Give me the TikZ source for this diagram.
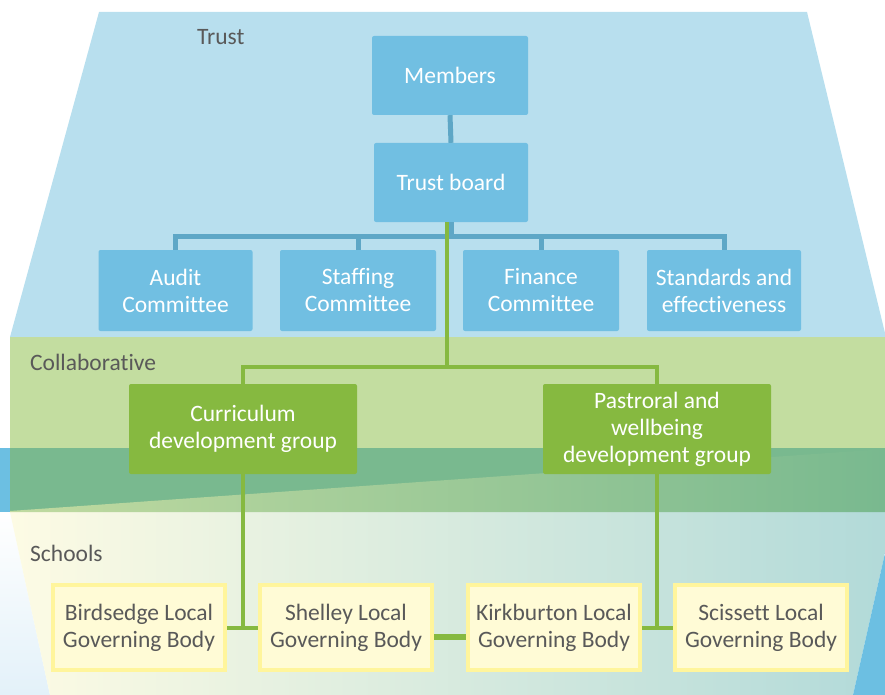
\documentclass[tikz,border=0pt]{standalone}
\usepackage{fontspec}
\setmainfont{Carlito}[Ligatures=CommonOff]
\usepackage{tikz}

\definecolor{trustbg}{HTML}{B8DFEE}
\definecolor{trustbox}{HTML}{71BFE2}
\definecolor{trustline}{HTML}{5EA7C6}
\definecolor{collabbg}{HTML}{C3DDA0}
\definecolor{collabbox}{HTML}{86B940}
\definecolor{overlap}{HTML}{79B98F}
\definecolor{overlaplight}{HTML}{C0DAA0}
\definecolor{stripblue}{HTML}{6CBFE2}
\definecolor{schoolleft}{HTML}{FDFBE4}
\definecolor{schoolright}{HTML}{B2DAD9}
\definecolor{paleblue}{HTML}{E3F1F9}
\definecolor{schoolfill}{HTML}{FFFBD6}
\definecolor{schoolrim}{HTML}{FFF59C}
\definecolor{labelgray}{HTML}{595959}

\begin{document}
\begin{tikzpicture}[x=1pt, y=-1pt,
    txt/.style={font=\fontsize{23.5}{27}\selectfont, align=center, inner sep=0pt},
    bluebox/.style={txt, fill=trustbox, text=white, rounded corners=2pt},
    greenbox/.style={txt, fill=collabbox, text=white, rounded corners=2pt,
      minimum width=228pt, minimum height=90pt},
    schoolbox/.style={txt, fill=schoolfill, draw=schoolrim, line width=4pt,
      text=labelgray, minimum width=172pt, minimum height=85pt},
    band/.style={font=\fontsize{23.5}{27}\selectfont, text=labelgray, inner sep=0pt},
    blueline/.style={draw=trustline, line width=5pt},
    greenline/.style={draw=collabbox, line width=4pt}]
      \useasboundingbox (0,0) rectangle (885,695);
      % background layers
      \fill[stripblue] (0,448) rectangle (885,512);
      \shade[top color=white, bottom color=paleblue] (0,512) -- (10,512) -- (50,695) -- (0,695) -- cycle;
      \shade[left color=schoolleft, right color=schoolright]
        (10,512) -- (885,512) -- (885,553) -- (853,695) -- (50,695) -- cycle;
      \fill[stripblue] (885,553) -- (885,695) -- (853,695) -- cycle;
      \fill[trustbg] (99,12) -- (807,12) -- (885,333) -- (885,337) -- (10,337) -- cycle;
      \fill[collabbg] (10,337) rectangle (885,448);
      \fill[overlap] (10,448) rectangle (885,512);
      \shade[left color=overlaplight, right color=overlap] (10,511) -- (885,449) -- (885,512) -- (10,512) -- cycle;

      \node[band, anchor=west] (trustlbl)  at (197,37)  {Trust};
      \node[band, anchor=west] (collablbl) at (30,362)  {Collaborative};
      \node[band, anchor=west] (schoollbl) at (30,553)  {Schools};

      % trust
      \node[bluebox, minimum width=156pt, minimum height=79pt] (members) at (450,75.5)  {Members};
      \node[bluebox, minimum width=154pt, minimum height=79pt] (board)   at (451,182.5) {Trust board};
      \node[bluebox, minimum width=154pt, minimum height=81pt] (audit)     at (175.5,290.5) {Audit\\Committee};
      \node[bluebox, minimum width=156pt, minimum height=81pt] (staffing)  at (358,290.5)   {Staffing\\Committee};
      \node[bluebox, minimum width=156pt, minimum height=81pt] (finance)   at (541,290.5)   {Finance\\Committee};
      \node[bluebox, minimum width=154pt, minimum height=81pt] (standards) at (724,290.5)   {Standards and\\effectiveness};

      % collaborative
      \node[greenbox] (curric)   at (243,429) {Curriculum\\development group};
      \node[greenbox] (pastoral) at (657,429) {Pastroral and\\wellbeing\\development group};

      % schools
      \node[schoolbox] (birds)    at (139,627.5) {Birdsedge Local\\Governing Body};
      \node[schoolbox] (shelley)  at (346,627.5) {Shelley Local\\Governing Body};
      \node[schoolbox] (kirk)     at (554,627.5) {Kirkburton Local\\Governing Body};
      \node[schoolbox] (scissett) at (761,627.5) {Scissett Local\\Governing Body};

      \coordinate (cbus) at (451,236);
      \coordinate (gbus) at (447,367);
      \draw[blueline] (members.south) -- (board.north);
      \draw[blueline] (board.south) -- (cbus);
      \draw[blueline] (audit.north) |- (cbus) -| (standards.north);
      \draw[blueline] (staffing.north) -- (staffing.north |- cbus);
      \draw[blueline] (finance.north) -- (finance.north |- cbus);

      \draw[greenline] (board.south -| gbus) -- (gbus);
      \draw[greenline] (curric.north) |- (gbus) -| (pastoral.north);
      \draw[greenline] (curric.south) -- (curric.south |- birds.east);
      \draw[greenline] (birds.east) -- (shelley.west);
      \draw[greenline] (pastoral.south) -- (pastoral.south |- kirk.east);
      \draw[greenline] (kirk.east) -- (scissett.west);
      \draw[greenline, line width=6pt] ([yshift=-9pt]shelley.east) -- ([yshift=-9pt]kirk.west);
    \end{tikzpicture}
\end{document}
